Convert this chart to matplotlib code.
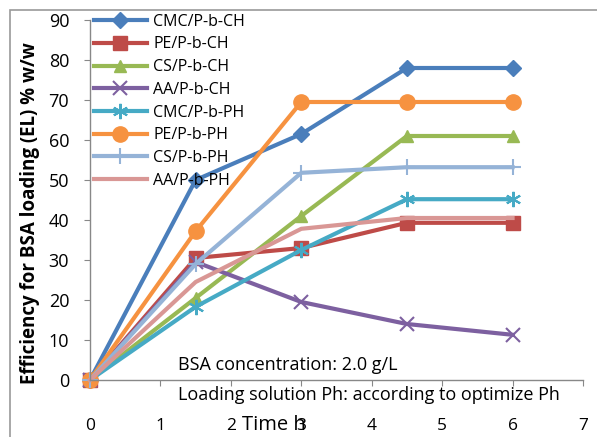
import matplotlib
matplotlib.use("Agg")
import matplotlib.pyplot as plt
from matplotlib.patches import Rectangle

# Sampling times (h)
time_h = [0, 1.5, 3, 4.5, 6]

# Loading efficiency (% w/w) for each hydrogel formulation
series_names = ["CMC/P-b-CH", "PE/P-b-CH", "CS/P-b-CH", "AA/P-b-CH",
                "CMC/P-b-PH", "PE/P-b-PH", "CS/P-b-PH", "AA/P-b-PH"]
cmc_ch = [0, 50, 61.5, 78, 78]
pe_ch = [0, 30.5, 33, 39.3, 39.3]
cs_ch = [0, 20.5, 41, 61, 61]
aa_ch = [0, 29.5, 19.5, 14, 11.3]
cmc_ph = [0, 18.3, 32.5, 45.2, 45.2]
pe_ph = [0, 37.2, 69.5, 69.5, 69.5]
cs_ph = [0, 29, 51.8, 53.2, 53.2]
aa_ph = [0, 24.5, 37.8, 40.5, 40.5]

x_ticks = [0, 1, 2, 3, 4, 5, 6, 7]
y_ticks = [0, 10, 20, 30, 40, 50, 60, 70, 80, 90]

values = [cmc_ch, pe_ch, cs_ch, aa_ch, cmc_ph, pe_ph, cs_ph, aa_ph]
colors = ["#4A7EBB", "#BE4B48", "#98B954", "#7D60A0",
          "#46AAC5", "#F69240", "#95B3D7", "#D99795"]
markers = ["D", "s", "^", "x", (6, 2, 0), "o", "+", None]
msizes = [8, 10, 9, 10, 11, 11, 12, 0]

plt.rcParams["font.family"] = ["Open Sans", "DejaVu Sans"]

W, H = 597, 437
fig = plt.figure(figsize=(W / 100, H / 100), dpi=100)
fig.patches.append(Rectangle((10 / W, -0.1), 1.2, 1 - 10 / H + 0.1,
                             transform=fig.transFigure, fill=False,
                             edgecolor="#9a9a9a", linewidth=1.2))

ax = fig.add_axes([90 / W, 1 - 380 / H, (583 - 90) / W, 360 / H])

for name, v, c, m, ms in zip(series_names, values, colors, markers, msizes):
    thin = m in ("x", "+") or isinstance(m, tuple)
    ax.plot(time_h, v, color=c, linewidth=3, marker=m, markersize=ms,
            markeredgewidth=1.5 if thin else 1,
            markeredgecolor=c, label=name, clip_on=False,
            solid_joinstyle="round")

ax.set_xlim(0, 7)
ax.set_ylim(0, 90)
ax.set_xticks(x_ticks)
ax.set_yticks(y_ticks)
ax.tick_params(axis="both", length=4, color="#888888")
ax.tick_params(axis="x", labelsize=12.5, pad=23)
ax.tick_params(axis="y", labelsize=13, pad=11)

for side in ("top", "right"):
    ax.spines[side].set_visible(False)
for side in ("left", "bottom"):
    ax.spines[side].set_color("#888888")
    ax.spines[side].set_linewidth(1)

# Axis titles, placed in figure pixels
fig.text(30 / W, 1 - 213 / H, "Efficiency for BSA loading (EL) % w/w",
         rotation=90, fontsize=13.5, fontweight="bold",
         ha="center", va="center")
fig.text(274 / W, 1 - 425 / H, "Time h", fontsize=14.5,
         ha="center", va="center")

# Experimental conditions
fig.text(178 / W, 1 - 365 / H, "BSA concentration: 2.0 g/L",
         fontsize=13, va="center")
fig.text(178 / W, 1 - 395 / H,
         "Loading solution Ph: according to optimize Ph",
         fontsize=13, va="center")

ax.legend(loc="upper left", bbox_to_anchor=(-0.005, 1.035), frameon=False,
          fontsize=11.5, handlelength=3.3, labelspacing=0.42,
          handletextpad=0.4, borderaxespad=0)

fig.savefig("out.png", dpi=100)
